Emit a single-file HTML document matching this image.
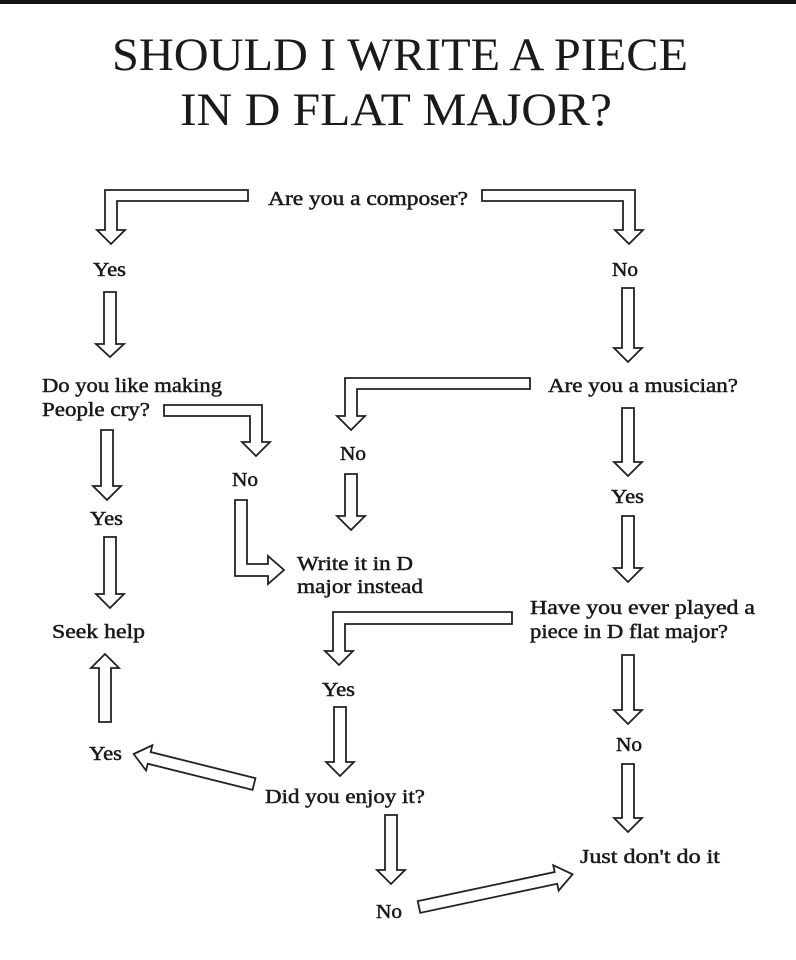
<!DOCTYPE html>
<html><head><meta charset="utf-8"><style>
html,body{margin:0;padding:0;background:#fff;}
svg{display:block}
.t{font-family:"Liberation Serif",serif;font-size:20px;fill:#1a1a1a;stroke:#1a1a1a;stroke-width:0.5px}
.a{fill:#fff;stroke:#222;stroke-width:1.8;stroke-linejoin:miter}
</style></head><body>
<svg width="796" height="960" viewBox="0 0 796 960" xmlns="http://www.w3.org/2000/svg">
<rect x="0" y="0" width="796" height="4" fill="#111"/>
<text x="400" y="70" text-anchor="middle" font-family="Liberation Serif,serif" font-size="47" fill="#1a1a1a" textLength="576" lengthAdjust="spacingAndGlyphs">SHOULD I WRITE A PIECE</text>
<text x="396" y="125" text-anchor="middle" font-family="Liberation Serif,serif" font-size="47" fill="#1a1a1a" textLength="432" lengthAdjust="spacingAndGlyphs">IN D FLAT MAJOR?</text>

<polygon class="a" points="248,190 105,190 105,230 97,230 111,244 125,230 117,230 117,201 248,201"/>
<polygon class="a" points="482,190 635,190 635,230 643,230 629,244 615,230 623,230 623,201 482,201"/>
<text class="t" x="268" y="205" textLength="200" lengthAdjust="spacingAndGlyphs">Are you a composer?</text>
<text class="t" x="93" y="276" textLength="33" lengthAdjust="spacingAndGlyphs">Yes</text>
<text class="t" x="612" y="276" textLength="26" lengthAdjust="spacingAndGlyphs">No</text>

<polygon class="a" points="104,292 116,292 116,344 124,344 110,357 96,344 104,344"/>
<polygon class="a" points="622,288 634,288 634,348 642,348 628,362 614,348 622,348"/>

<text class="t" x="42" y="392" textLength="180" lengthAdjust="spacingAndGlyphs">Do you like making</text>
<text class="t" x="42" y="416" textLength="108" lengthAdjust="spacingAndGlyphs">People cry?</text>
<polygon class="a" points="164,405 262,405 262,442 270,442 256,456 242,442 250,442 250,416 164,416"/>
<text class="t" x="232" y="486" textLength="26" lengthAdjust="spacingAndGlyphs">No</text>
<polygon class="a" points="235,500 247,500 247,564 268,564 268,556 284,570 268,584 268,576 235,576"/>

<polygon class="a" points="101,430 113,430 113,486 121,486 107,500 93,486 101,486"/>
<text class="t" x="90" y="525" textLength="33" lengthAdjust="spacingAndGlyphs">Yes</text>
<polygon class="a" points="104,537 116,537 116,594 124,594 110,608 96,594 104,594"/>
<text class="t" x="52" y="638" textLength="93" lengthAdjust="spacingAndGlyphs">Seek help</text>
<polygon class="a" points="99,722 111,722 111,668 119,668 105,654 91,668 99,668"/>
<text class="t" x="89" y="760" textLength="33" lengthAdjust="spacingAndGlyphs">Yes</text>

<text class="t" x="548" y="392" textLength="190" lengthAdjust="spacingAndGlyphs">Are you a musician?</text>
<polygon class="a" points="530,378 345,378 345,416 337,416 351,430 365,416 357,416 357,389 530,389"/>
<text class="t" x="340" y="460" textLength="26" lengthAdjust="spacingAndGlyphs">No</text>
<polygon class="a" points="345,474 357,474 357,516 365,516 351,530 337,516 345,516"/>
<text class="t" x="297" y="570" textLength="116" lengthAdjust="spacingAndGlyphs">Write it in D</text>
<text class="t" x="297" y="593" textLength="126" lengthAdjust="spacingAndGlyphs">major instead</text>

<polygon class="a" points="622,408 634,408 634,462 642,462 628,476 614,462 622,462"/>
<text class="t" x="611" y="503" textLength="33" lengthAdjust="spacingAndGlyphs">Yes</text>
<polygon class="a" points="622,516 634,516 634,568 642,568 628,582 614,568 622,568"/>
<text class="t" x="530" y="614" textLength="225" lengthAdjust="spacingAndGlyphs">Have you ever played a</text>
<text class="t" x="530" y="638" textLength="198" lengthAdjust="spacingAndGlyphs">piece in D flat major?</text>

<polygon class="a" points="512,612 333,612 333,651 325,651 339,665 353,651 345,651 345,624 512,624"/>
<text class="t" x="322" y="696" textLength="33" lengthAdjust="spacingAndGlyphs">Yes</text>
<polygon class="a" points="334,707 346,707 346,762 354,762 340,776 326,762 334,762"/>
<text class="t" x="265" y="803" textLength="160" lengthAdjust="spacingAndGlyphs">Did you enjoy it?</text>

<g transform="translate(254,784) rotate(-166)">
<polygon class="a" points="0,-6 108,-6 108,-13 124,0 108,13 108,6 0,6"/>
</g>

<polygon class="a" points="622,655 634,655 634,710 642,710 628,724 614,710 622,710"/>
<text class="t" x="616" y="751" textLength="26" lengthAdjust="spacingAndGlyphs">No</text>
<polygon class="a" points="622,764 634,764 634,818 642,818 628,832 614,818 622,818"/>
<text class="t" x="580" y="863" textLength="140" lengthAdjust="spacingAndGlyphs">Just don't do it</text>

<polygon class="a" points="385,815 397,815 397,870 405,870 391,884 377,870 385,870"/>
<text class="t" x="376" y="918" textLength="26" lengthAdjust="spacingAndGlyphs">No</text>
<g transform="translate(419,907) rotate(-12)">
<polygon class="a" points="0,-6 140,-6 140,-13 157,0 140,13 140,6 0,6"/>
</g>
</svg>
</body></html>
